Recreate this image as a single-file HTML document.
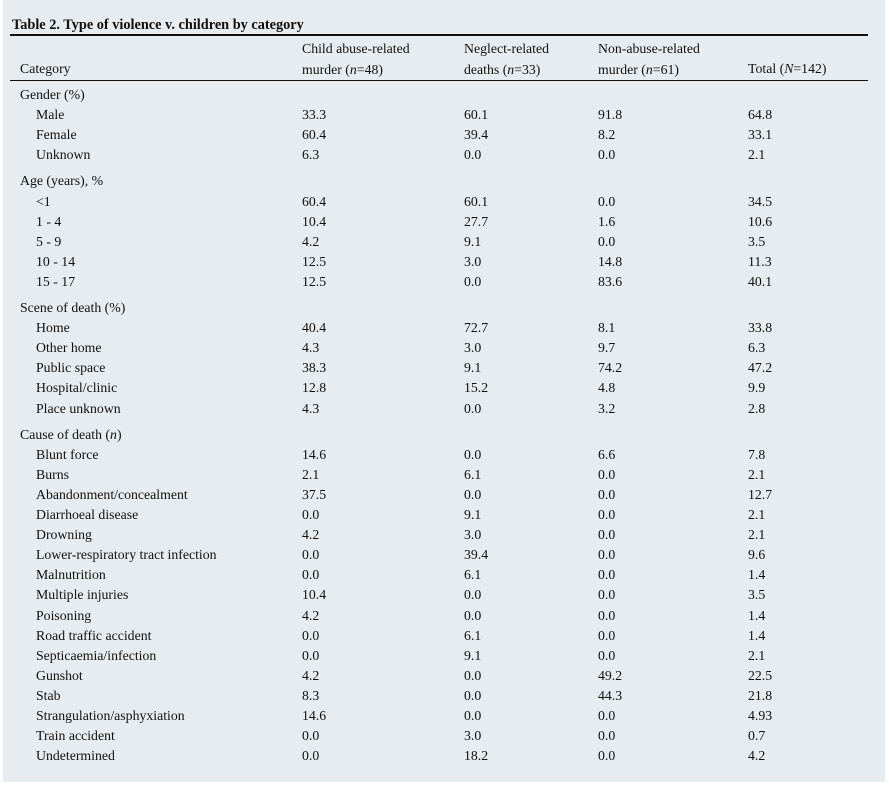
<!DOCTYPE html>
<html><head><meta charset="utf-8"><style>
body{margin:0;width:889px;height:786px;background:#fff;position:relative;font-family:"Liberation Serif",serif;color:#111;overflow:hidden}
#panel{position:absolute;left:3px;top:0;width:882px;height:782px;background:#e6ecf0}
.t{position:absolute;font-size:13.8px;line-height:16px;white-space:nowrap}
.h{line-height:21px}
.rule{position:absolute;left:10px;width:858px;background:#111}
</style></head><body>
<div id="panel"></div>
<div class="t" style="left:12px;top:17px;font-weight:bold;font-size:14.3px">Table 2. Type of violence v. children by category</div>
<div class="rule" style="top:34px;height:2px"></div>
<div class="t" style="left:20px;top:61px">Category</div>
<div class="t h" style="left:302px;top:38px">Child abuse-related<br>murder (<i>n</i>=48)</div>
<div class="t h" style="left:464px;top:38px">Neglect-related<br>deaths (<i>n</i>=33)</div>
<div class="t h" style="left:598px;top:38px">Non-abuse-related<br>murder (<i>n</i>=61)</div>
<div class="t" style="left:748px;top:61px">Total (<i>N</i>=142)</div>
<div class="rule" style="top:80px;height:1px"></div>
<div id="rows"></div>
<script>
const sections=[
 ["Gender (%)",[["Male","33.3","60.1","91.8","64.8"],["Female","60.4","39.4","8.2","33.1"],["Unknown","6.3","0.0","0.0","2.1"]]],
 ["Age (years), %",[["<1","60.4","60.1","0.0","34.5"],["1 - 4","10.4","27.7","1.6","10.6"],["5 - 9","4.2","9.1","0.0","3.5"],["10 - 14","12.5","3.0","14.8","11.3"],["15 - 17","12.5","0.0","83.6","40.1"]]],
 ["Scene of death (%)",[["Home","40.4","72.7","8.1","33.8"],["Other home","4.3","3.0","9.7","6.3"],["Public space","38.3","9.1","74.2","47.2"],["Hospital/clinic","12.8","15.2","4.8","9.9"],["Place unknown","4.3","0.0","3.2","2.8"]]],
 ["Cause of death (<i>n</i>)",[["Blunt force","14.6","0.0","6.6","7.8"],["Burns","2.1","6.1","0.0","2.1"],["Abandonment/concealment","37.5","0.0","0.0","12.7"],["Diarrhoeal disease","0.0","9.1","0.0","2.1"],["Drowning","4.2","3.0","0.0","2.1"],["Lower-respiratory tract infection","0.0","39.4","0.0","9.6"],["Malnutrition","0.0","6.1","0.0","1.4"],["Multiple injuries","10.4","0.0","0.0","3.5"],["Poisoning","4.2","0.0","0.0","1.4"],["Road traffic accident","0.0","6.1","0.0","1.4"],["Septicaemia/infection","0.0","9.1","0.0","2.1"],["Gunshot","4.2","0.0","49.2","22.5"],["Stab","8.3","0.0","44.3","21.8"],["Strangulation/asphyxiation","14.6","0.0","0.0","4.93"],["Train accident","0.0","3.0","0.0","0.7"],["Undetermined","0.0","18.2","0.0","4.2"]]]
];
const colX=[36,302,464,598,748];
const root=document.getElementById('rows');
let y=95;
function add(x,cy,html,name){const d=document.createElement('div');d.className='t';d.style.left=x+'px';d.style.top=(cy-8)+'px';d.innerHTML=html;


root.appendChild(d);}
sections.forEach((s,si)=>{
 add(20,y,s[0],'section-heading');
 y+=20.1;
 s[1].forEach(r=>{
  r.forEach((c,ci)=>{const t=c.replace('<','&lt;');add(colX[ci],y,t,ci==0?'row-label':'cell-value');});
  y+=20.1;
 });
 y+=6;
});
</script>
</body></html>
